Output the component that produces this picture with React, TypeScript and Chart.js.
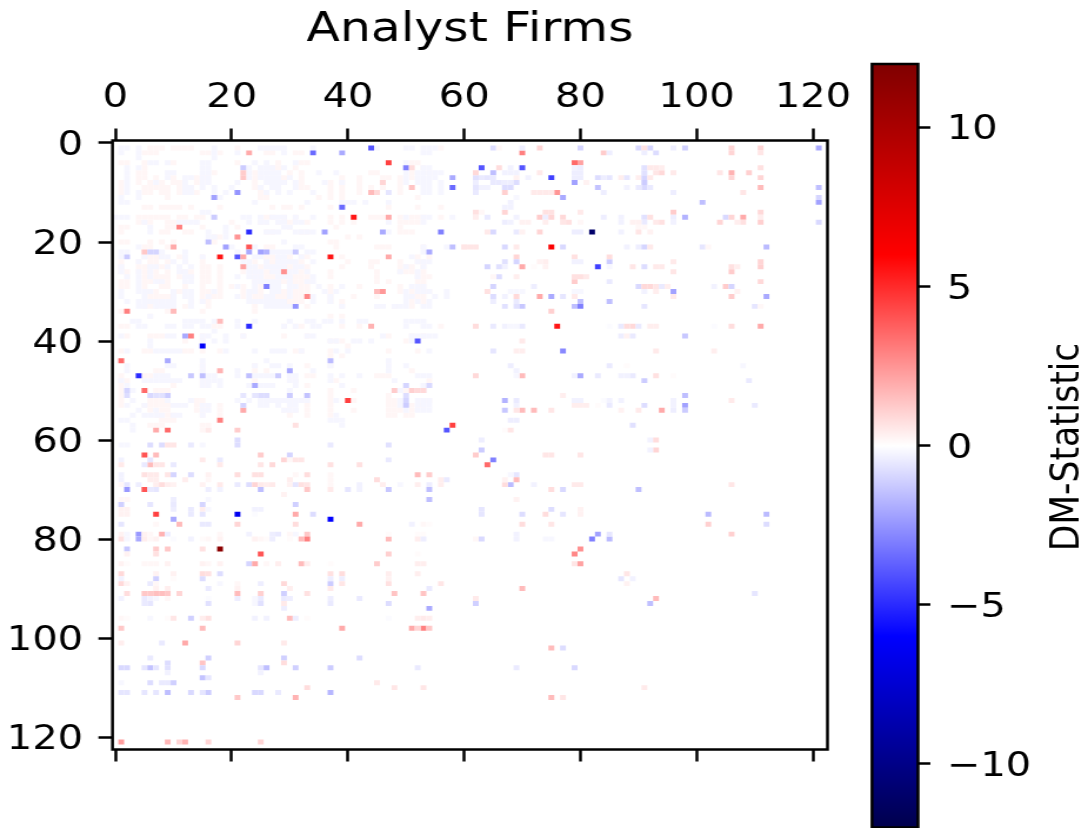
import React, { useEffect, useRef } from "react";
import Chart from "chart.js/auto";

const titleText = "Analyst Firms";
const colorbarLabel = "DM-Statistic";
const xTickValues = [0, 20, 40, 60, 80, 100, 120];
const yTickValues = [0, 20, 40, 60, 80, 100, 120];
const colorbarTicks = [-10, -5, 0, 5, 10];
const colorMin = -12;
const colorMax = 12;
// value, r, g, b (seismic)
const colormapStops = [
  [-12, 0, 0, 76],
  [-6, 0, 0, 255],
  [0, 255, 255, 255],
  [6, 255, 0, 0],
  [12, 128, 0, 0],
];

// [col, row, value]
const cellsUpperLeft = [
  [44,1,-4],[34,2,-3.5],[39,2,-2],[23,2,2],[47,4,4.5],[50,5,-3],[58,7,-2],[58,9,-3.5],[21,10,-2.5],[17,11,-2.2],
  [39,13,-3.5],[41,15,5.5],[47,15,2],[17,15,-1.2],[11,17,3],[23,18,-5],[46,18,-2],[36,18,-2.2],[56,18,-3],[21,19,2.5],
  [16,20,-1.5],[23,21,4],[19,21,-2.2],[10,21,2],[58,21,-1.5],[23,22,-2],[25,22,-2.2],[26,22,-1.8],[31,22,-1.3],[54,22,-2],
  [18,23,5.5],[21,23,-4],[22,23,2],[37,23,5.5],[47,23,2],[2,23,-1.2],[22,25,2.2],[29,26,2.6],[26,29,-3],[33,31,2.8],
  [46,30,2.4],[45,30,1.6],[31,33,-2.5],[2,34,3],[10,34,1.6],[18,36,1.6],[23,37,-5],[44,37,1.8],[13,39,3],[12,39,-2],
  [15,41,-6.2],[52,40,-4],[1,44,3.5],[9,44,-2],[37,44,-1.6],[4,47,-5],[30,46,-2],[18,46,1.8],[13,47,-1.3],[15,47,-1.5],
  [23,47,-1.5],[28,47,-1.2],[24,49,-2],[5,50,3.5],[40,52,4.5],[22,54,2],[18,56,3],[9,58,3.5],[7,58,2],[57,58,-4],
  [58,57,4.5],[21,58,1.2],[16,58,0.5],[31,57,0.7],[22,5,-1.2],[22,6,1.2],[22,7,1.3],[5,22,1.3],[6,22,-1],[7,22,-1],
  [47,10,-0.6],[44,10,1.6],[45,10,0.9],[51,9,1.4],[46,8,1],[51,5,0.8],[2,50,-1],[2,51,-0.8],[6,51,-0.9],[9,51,-1.2],
  [8,51,-0.7],[7,51,-0.7],[30,51,-1.2],[33,51,-1.4],[26,51,-0.8],[25,51,-0.8],[24,51,-0.6],[22,53,-1],[22,51,-0.6],[50,53,-1.2],
  [50,52,-1],[50,51,-0.8],[52,50,0.9],[53,50,0.9],[51,50,1.1],[50,49,-1],[54,49,-0.9],[48,50,1.2],
];
const cellsUpperRight = [
  [70,2,3],[63,5,-4],[70,5,-4],[79,4,3.5],[80,4,2.2],[65,6,-1.5],[75,7,-4.5],[79,8,-2.2],[76,10,2.5],[77,11,-2],
  [111,9,1.6],[121,1,-2],[121,9,-1.5],[121,12,-2.2],[121,11,-1],[101,12,-1.5],[82,18,-11],[75,21,6.2],[77,21,-0.9],[112,21,-1.6],
  [83,25,-4.5],[70,25,2],[98,15,-1.8],[108,15,2],[79,28,1.2],[96,30,-2.2],[73,31,2],[75,31,-2],[112,31,-2],[80,33,-3],
  [79,33,-1.5],[80,32,-1.5],[85,32,-1.5],[85,24,-1.2],[76,37,5.5],[111,37,2],[77,42,-2.8],[80,47,-2],[70,47,1.6],[62,47,0.9],
  [91,48,-1.2],[98,51,-1.5],[98,53,-2.2],[67,52,-1.8],[67,54,-1.3],[70,54,1.6],[72,54,1.6],[94,54,2],[98,54,-1.2],[80,1,-1],
  [70,1,-0.4],[73,1,1],[65,1,-0.8],[84,2,1.2],[85,2,-0.4],[108,10,0.6],[106,1,1],[106,2,1],[111,1,1],[111,2,0.6],
  [66,1,0.2],[90,1,-0.9],[92,1,-1],[91,1,0.7],[98,1,-1.1],[96,1,-0.4],[91,2,-0.4],[93,2,-0.8],[106,6,1.8],[106,7,1],
  [111,5,0.7],[111,7,1],[110,6,0],[109,6,1.1],[96,6,0.5],[104,6,0.6],[87,7,0.4],[88,7,-0.6],[85,7,-0.6],[84,7,-0.4],
  [83,7,-0.8],[90,7,0.4],[91,7,-1],[92,7,0.5],[91,6,-0.7],[91,5,-0.7],[91,8,-1.2],[91,9,-0.9],[90,9,-0.5],[92,9,-0.5],
  [93,6,0.6],[94,6,0.9],[93,5,0.5],[94,5,0.4],[92,5,0.5],[88,9,-0.3],[96,10,-0.4],[68,12,-0.3],[69,11,-0.2],[67,10,1.1],
  [62,10,-0.5],[72,10,0.5],[73,10,0.5],[74,10,0.5],[75,10,0.5],[83,9,-1.4],[84,10,-0.4],[62,9,-0.6],[63,9,-0.3],[64,9,-0.3],
  [62,8,-0.4],[65,8,-0.5],[66,8,-0.5],[67,8,-0.4],[68,8,-0.4],[69,8,-0.8],[68,9,-0.8],[67,9,-0.8],[69,7,0.3],[71,7,-0.3],
  [62,7,-0.7],[63,7,-0.5],[64,7,-0.6],[65,7,-0.5],[62,6,0.9],[66,5,0.8],[67,6,-0.3],[68,6,-0.3],[69,6,-0.3],[68,5,-0.3],
  [73,6,0.5],[81,8,0.3],[79,7,-0.4],[80,7,-0.4],[79,6,-0.4],[80,6,-0.4],[79,5,-0.3],[80,5,-0.4],
  [62,14,0.7],[63,14,0.2],[67,14,1],[74,14,0.7],[75,14,0.7],[80,14,0.5],[96,14,1.2],[111,14,0.9],[67,13,-0.3],[68,13,-0.3],
  [62,15,0.4],[64,15,-0.5],[69,15,-0.3],[73,15,1.2],[74,15,-0.4],[75,15,1],[77,15,0.9],[84,15,-0.4],[87,15,-0.3],[91,15,-0.7],
  [92,15,0.7],[96,15,-0.4],[105,15,-0.9],[106,15,1],[111,15,0.4],[67,16,-0.4],[68,16,-0.3],[70,16,0.3],[71,16,0.3],[74,16,0.4],
  [77,16,0.6],[78,16,0.7],[80,16,0.2],[87,16,-0.3],[91,16,-0.5],[90,16,0.3],[90,17,0.2],[91,17,0.2],[89,16,0.3],[96,16,-0.3],
  [104,16,1],[107,16,0.4],[108,16,0.7],[111,16,1.1],[121,16,-0.9],[93,16,0.5],[94,16,0.7],[65,18,-0.9],[64,18,0.5],[69,18,-0.5],
  [70,18,0.3],[73,18,1],[79,18,-0.4],[80,18,-0.4],[87,18,-0.3],[90,18,0.6],[92,18,0.3],[60,21,0.6],[61,21,0.6],[62,21,0.6],
  [67,21,-0.9],[69,21,0.5],[88,21,-0.3],[90,21,-0.4],[91,21,-1],[92,21,0.5],[101,21,-0.6],[102,21,0.2],
  [67,24,-0.7],[67,25,-0.3],[69,23,1],[69,24,-1],[72,25,0.1],[73,24,0.3],[74,24,0.4],[74,25,0.3],[79,23,0.7],[79,24,-0.3],
  [80,24,-0.3],[85,23,0.8],[85,25,-0.2],[64,25,-1],[66,25,-0.7],[89,25,0.6],[91,25,-0.8],[93,25,0.5],[94,25,0.5],[96,24,0.5],
  [106,25,0.7],[107,25,0.4],[111,24,1],[111,25,1.1],[106,26,1.2],[66,27,-0.8],[65,27,0.2],[69,27,0.4],[79,27,0.7],[80,27,0.7],
  [81,27,0.5],[85,28,-0.5],[96,26,0.6],[111,28,0.9],[65,29,-1],[72,29,-0.4],[90,29,-0.9],[92,29,0.9],[93,29,0.6],[94,29,-0.5],
  [91,29,0.9],[95,29,0.4],[103,29,-0.3],[105,29,1.2],[106,29,-1],[64,30,0.7],[65,31,-0.8],[69,30,-0.2],[68,30,-0.2],[70,30,-0.2],
  [79,30,-0.2],[80,30,-0.2],[91,30,-0.3],[93,30,0.4],[107,30,0.3],[69,31,0.9],[67,31,-0.3],[77,31,-0.6],[79,31,0.5],[96,31,0.5],
  [106,31,1.2],[65,32,-0.4],[69,32,-0.5],[67,33,-0.7],[69,33,-0.7],[70,33,-1.3],[75,34,1.1],[91,33,-0.6],[110,33,-0.6],[111,33,0.2],
  [62,37,0.8],[65,37,-0.5],[67,37,-0.3],[68,37,-0.2],[69,37,-0.2],[70,37,-0.5],[85,37,-0.1],[87,37,-0.5],[88,37,0.8],[89,37,0.9],
  [90,37,-0.5],[92,37,0.4],[93,37,0.4],[103,37,-0.1],[106,37,0.8],[87,39,-0.4],[88,39,0.3],[89,39,-0.5],[98,39,-1.3],[70,40,0.5],
  [65,42,-0.6],[69,42,0.4],[70,42,0.4],[93,42,0.5],[103,42,0.4],[68,45,-0.4],[69,46,-0.3],[85,45,-0.5],[88,45,0.1],[108,45,-0.2],
  [79,47,-0.3],[83,47,-0.5],[87,47,-0.3],[88,47,-0.3],[89,47,-0.5],[93,47,0.7],[96,47,0.1],[109,48,-0.5],[69,47,-0.2],[77,51,0.4],
  [69,52,-0.5],[69,53,-0.3],[79,52,-0.3],[80,52,-0.3],[79,53,0.4],[80,53,0.4],[81,53,0.4],[84,52,-0.1],[83,53,0.1],[85,52,-0.3],
  [85,53,-0.5],[87,52,-0.3],[96,52,-0.3],[96,53,-0.3],[91,53,-0.8],[106,52,0.5],[110,53,-0.5],[69,54,0.6],[75,54,0.6],[87,54,0.3],
  [90,54,0.5],[96,54,-0.4],[68,56,-0.4],[69,56,-0.4],[89,57,-0.7],[67,58,0.1],[68,58,0.6],[63,60,-0.4],[92,60,-0.3],[93,60,0.8],
];
const cellsLowerLeft = [
  [5,63,4],[7,63,1.6],[25,63,1.2],[30,63,-1],[6,65,1.6],[29,64,1],[2,70,-2.4],[5,70,4],[25,70,-1.5],[33,70,1.3],
  [47,70,-1.3],[54,70,-1.5],[52,67,1.6],[54,67,1.2],[54,72,-1.5],[1,73,-1.1],[15,73,-1],[31,73,-1.1],[7,75,4.5],[21,75,-6.5],
  [31,75,2],[34,75,-0.8],[10,76,-2],[37,76,-6],[11,77,1.6],[21,77,1],[31,77,0.8],[42,77,2],[4,79,-2.4],[4,80,-2],
  [8,79,1.8],[33,79,1.3],[33,80,3],[32,80,1.6],[47,80,1.6],[18,82,11.5],[2,82,-1.3],[7,82,1.2],[9,82,1.3],[15,82,0.7],
  [25,83,4],[47,83,1.1],[23,85,-1],[24,85,2],[32,85,1.6],[45,85,1.2],[21,91,1.6],[25,91,1.1],[5,91,1.3],[6,91,1.3],
  [7,91,1.5],[8,91,1.5],[9,91,1.3],[2,91,0.8],[11,91,1],[29,91,-1.1],[33,91,0.7],[48,91,1.4],[53,91,1.4],[54,94,-2],
  [13,96,-1.1],[30,96,1.6],[1,98,1.3],[15,98,1.6],[39,98,2],[51,98,2],[53,98,3],[52,98,1],[54,98,1.3],[12,101,2],
  [21,101,1],[1,101,0.4],[8,101,-0.5],[29,101,0.5],[16,104,-1.1],[29,104,-1.1],[42,104,-0.8],[6,104,-0.5],[15,105,1.4],[29,105,0.8],
  [9,105,-0.8],[1,106,-0.9],[2,106,-0.9],[5,106,-0.6],[6,106,-1.4],[7,106,-0.6],[9,106,-0.7],[15,106,-0.9],[25,106,-0.6],[26,106,-1.5],
  [31,106,-1.1],[37,106,-1.2],[52,106,-0.5],[25,107,-0.3],[9,107,-0.3],[15,108,-1.4],[16,108,-0.6],[1,109,-0.2],[6,109,-0.8],[8,109,-0.5],
  [9,109,-0.5],[10,109,-1.1],[45,109,0.5],[33,110,0.8],[48,110,0.6],[53,110,0.6],[1,111,-0.6],[2,111,-0.6],[5,111,-0.6],[7,111,-0.6],
  [9,111,-1.5],[13,111,-0.9],[15,111,-0.6],[16,111,-1.2],[24,111,-0.9],[25,111,-0.9],[28,111,-0.5],[37,111,-1.7],[21,112,1.3],[31,112,1.8],
  [1,121,2.3],[9,121,1.7],[11,121,1],[12,121,1.8],[16,121,1],[25,121,1],
  [1,61,-0.2],[2,61,-0.2],[6,61,-0.8],[8,61,-0.8],[9,61,0.6],[10,61,0.6],[13,61,-0.5],[15,61,-0.2],[21,60,-0.8],[21,61,-0.8],[37,61,-0.5],[47,61,-0.7],
  [1,64,-0.3],[6,64,-0.6],[15,64,0.5],[18,64,-0.5],[30,64,0.2],[31,64,0.6],[32,64,0.6],[47,64,-0.5],[1,65,0.5],[5,65,-0.5],
  [7,65,0.6],[8,65,0.6],[10,65,-0.5],[18,65,0.5],[25,65,0.6],[27,65,0.9],[37,65,0.7],[42,65,0.7],
  [1,67,-0.3],[5,67,0.7],[6,67,0.5],[7,67,0.5],[9,67,0.6],[10,67,-1],[13,67,-0.8],[16,67,0.3],[21,67,0.8],[24,67,0.7],[25,67,0.7],[31,67,0.2],[33,67,0.8],[37,67,0.2],
  [1,68,-0.3],[6,68,0.4],[7,68,0.4],[12,68,0.4],[16,68,0.2],[30,68,0.4],[37,68,0.2],[45,68,0.8],[56,68,0.4],[57,68,-0.5],
  [1,69,0.2],[2,69,-0.6],[4,69,-0.4],[7,69,0.4],[8,69,0.8],[9,69,0.4],[10,69,0.3],[15,69,0.3],[18,69,0.5],[21,69,-0.5],[23,69,-0.8],[24,69,1],[25,69,0.5],[26,69,0.4],[27,69,0.5],[30,69,0.3],[31,69,-0.6],[32,69,0.7],[33,69,0.6],[37,69,0.2],[42,69,-0.3],[46,69,0.4],[49,69,-0.2],[52,69,0.4],[54,69,-0.4],[56,69,0.4],
  [6,70,-0.5],[7,70,-0.6],[16,70,-0.4],[18,70,-0.3],[37,70,0.5],[40,70,-0.6],[42,70,-0.3],[29,71,0.3],[1,72,0.2],[2,72,0.2],[10,72,-0.4],[16,72,-0.2],[10,73,-0.5],[6,73,-0.6],[10,74,-0.4],[13,74,-0.5],[15,74,0.4],[16,74,-0.2],[24,74,-0.3],[25,74,-0.3],[1,74,0.3],[2,74,0.3],[13,75,-0.5],[15,75,-0.6],[1,75,0.3],[2,75,0.3],[24,75,-0.1],
  [1,77,-0.6],[7,77,0.2],[15,77,-0.5],[16,77,-0.5],[51,77,-0.3],[53,77,0.2],[54,77,0.1],
  [1,79,0.3],[2,79,-0.2],[5,79,0.3],[6,79,0.2],[9,79,-0.4],[18,79,0.2],[23,79,-0.3],[27,79,-0.4],[28,79,-0.5],[31,79,-0.2],[30,79,0.2],[53,79,0.1],[47,79,0.1],[52,79,0.1],
  [1,80,0.7],[2,80,-0.2],[5,80,0.4],[6,80,0.2],[7,80,0.3],[10,80,-0.1],[13,80,-0.3],[15,80,0.1],[16,80,0.2],[18,80,0.3],[24,80,0.3],[25,80,0.2],[26,80,0.1],[27,80,-0.4],[30,80,0.1],[52,80,0.4],[53,80,-0.4],
  [7,83,0.7],[2,83,0.3],[52,83,0.1],[1,85,0.3],[2,85,0.1],[5,85,0.2],[6,85,0.2],[7,85,0.2],[9,85,0.3],[15,85,0.3],[16,85,0.2],[18,85,0.3],[26,85,0.2],[28,85,0.4],[33,85,0.4],[37,85,0.1],[52,85,0.4],[53,85,0.4],
  [1,87,0.9],[7,87,0.3],[10,87,0.3],[15,87,0.8],[16,87,0.7],[18,87,-0.8],[37,87,0.7],[39,87,0.8],[47,87,0.4],[52,87,0.4],[45,87,0],
  [1,88,-0.3],[7,88,-1.1],[15,88,-0.8],[37,88,-0.4],[39,88,-0.4],[47,88,0.3],[10,88,0.1],
  [1,89,0.9],[2,89,0.3],[6,89,-0.5],[7,89,0.2],[18,89,-0.2],[21,89,0.2],[25,89,-0.4],[29,89,0.9],[37,89,-1.2],[39,89,0.6],[47,89,0.7],[56,89,0.6],
  [7,90,0.3],[9,90,0.4],[16,90,-0.5],[21,90,0.3],[30,90,0.4],[37,90,0.5],[54,90,-0.5],
  [1,92,-0.3],[5,92,-0.5],[6,92,-0.3],[7,92,-0.2],[9,92,0.2],[16,92,-0.1],[21,92,-0.4],[24,92,-0.2],[25,92,-0.5],[29,92,-0.5],[30,92,-0.4],[37,92,-0.4],[42,92,-0.5],
  [5,93,-0.5],[6,93,-0.6],[16,93,-0.7],[24,93,-0.2],[25,93,-0.7],[29,93,0.5],[37,93,-0.5],[47,93,-0.8],[29,94,-0.4],
  [1,96,0.2],[2,96,0.1],[6,96,-0.2],[9,96,0.1],[10,96,0.6],[15,96,0.4],[16,96,0.7],[24,96,-0.3],[26,96,-0.3],[31,96,-0.4],[33,96,0.1],[47,96,-0.1],[52,96,0.4],[53,96,0.5],[54,96,0.4],
];
const cellsLowerRight = [
  [63,62,-1.2],[62,63,1.2],[65,64,-3],[64,65,3.5],[74,63,0.6],[75,63,0.6],[80,63,0.6],[93,62,1],[92,62,-0.3],[69,67,-0.6],
  [69,68,1.6],[68,69,-1.6],[67,69,0.8],[72,69,-0.3],[75,70,0.8],[77,70,-0.9],[90,70,-1.5],[79,69,0.5],[80,69,0.5],[106,69,0.6],
  [69,72,0.3],[63,74,-0.6],[63,75,-0.6],[70,75,-0.8],[74,75,0.8],[75,74,-0.8],[77,75,-0.6],[80,74,0.3],[80,75,0.3],[102,75,-1.6],
  [112,75,-1.6],[102,77,1.1],[112,77,-0.8],[70,77,0.8],[75,77,0.6],[106,79,1.1],[83,79,-2.2],[82,80,-3],[85,80,-1.6],[85,79,-0.6],
  [63,80,-0.9],[69,79,-0.3],[69,80,-0.3],[74,80,-0.2],[75,80,-0.2],[80,82,2.6],[79,83,2.8],[79,85,0.6],[80,85,2.2],[88,87,0.6],
  [87,88,-0.6],[89,88,-0.3],[88,89,0.3],[70,90,1.6],[62,92,0.5],[62,93,-1.1],[93,92,1.6],[92,93,-1.5],[110,91,-0.6],[75,102,1.6],
  [77,102,-0.8],[69,106,-0.5],[79,106,-0.9],[91,110,0.5],[75,112,1.6],[77,112,0.6],[62,80,0.2],[68,67,-0.2],[67,68,0.3],
];
// rows of palest cells in the upper-left block: [row, ...cols]
const palePinkRows = [
  [1,6,7,8,10,11,12,13,21,56],[2,5,6,7,15,16,18,26,27,31,32],[4,1,2,5,10,21,28,32,33,51,52],[5,5,27,28,31,53],[6,4,5,17,24,27,30,32,44,45,51,54],
  [7,4,5,7,10,14,15,16,24,25,29,30,32,39,42,46,47,49,51],[8,1,4,6,8,10,11,14,16,24,29,31,32,37,39,42,46,49],[9,1,5,6,7,8,9,11,13,24,25,32,33,37,39,42,44,46,49,51],[10,1,5,6,8,9,11,12,14,25,37,39,42,44,49],[11,9,25,26,35,37,39,52],
  [13,5,6,8,9,10,11,13,18,27,29,30,32,37,47,52,56],[15,4,5,6,7,8,9,11,12,14,15,26,27,29,31,37,39,44,45,46,49,51,52,53,56],[16,4,5,6,9,10,14,20,25,26,28,30,33,37,39,41,49,50,51,52],[17,1,2,9,10,15,21,30,38,49],[18,1,8,9,12,13,26,27,32,33,49,50,51],
  [19,17,18,21,40,42],[20,1,2,6,8,10,17,37,38],[21,5,6,9,26,27,38,45,46,47,53,60],[23,5,6,7,8,11,15,22,26,27,30,32,33,39,54,52],[24,1,4,6,7,9,12,15,24,26,27,28,30,32,40,44,45,49,52,53],
  [25,1,4,5,6,7,8,15,16,18,25,27,29,30,31,33,39,44,49,50,51,53],[26,1,2,4,5,6,7,9,11,12,13,15,16,18,22,24,26,27,28,30,31,32,33,37,45,49,50,51,53],[27,2,5,6,7,8,9,11,13,15,16,18,24,25,26,27,29,30,31,32,33,37,45,52,53,54],[28,1,2,5,6,7,8,9,15,16,18,24,25,26,27,28,29,30,31,32,33,45,47,52,53],[29,1,2,5,8,9,12,15,18,20,22,25,26,31,32,33,37,42,49,52,53],
  [30,6,7,10,11,15,16,18,22,24,25,27,29,31,32,33,37,45,49,51,53,54],[31,6,7,8,9,10,15,16,17,18,22,24,25,27,28,29,31,32,37,41,45,51,52,53],[32,6,7,8,9,13,15,16,24,29,30,31,32,37,39,51,52,53],[33,5,6,7,12,16,24,33,39,45,48,51],[34,1,9,15,24],
  [35,6,37,39],[37,1,2,17,18,29,31,32,39,42,56],[39,2,6,7,8,15,22,29,33,47,51,53],[40,12,15,37,38,39,50],[41,40],[42,1,5,6,12,13,15,18,31,32,37,47,52],
  [43,37,39],[45,15,24,33,37,47],[46,7,8,15,18,24,26,51],[47,1,5,6,33,34,45,46,47],[48,1,2,15,24,30,31,38,54],[49,1,10,15,33],
  [50,1,7,8,9,37,41,49,50,52,53],[51,1,30,33,37,47],[52,1,6,7,8,9,14,15,30,33,37,41,47,48,53,54],[53,1,5,6,7,8,9,14,15,16,18,30,33,37,47,48,49,51,52,53],[54,6,7,8,9,14,15,18,29,30,31,33,37,41,47,48,49,51],
  [55,7,8,9,10,15,18,30,33,37,47,48,50,51],[56,8,9,10],[57,6,7,8,15,16],[58,15,16],
];
const paleBlueRows = [
  [1,1,2,4,17,25,26,27,28,29,34,45,50,51,53,54,55],[2,1,4,17,21,29,53,54],[3,4,17],[4,6,7,9,15,16,24,26,31,50],[5,2,4,15,16,23,25,26,27,29,53,54],
  [6,2,9,10,15,16,23,25,26,27,28,35,38,50,52,53,54,55,56],[7,2,9,12,13,15,16,23,25,26,27,28,30,50,52,53,54,55],[8,2,7,12,15,16,21,26,27,28,29,31,36,39,50,52,53,54,56],[9,2,12,13,15,17,20,25,27,28,31,54,53,56],[10,2,4,12,13,17,19,26,28,30,34,53,54,56],
  [11,1,4,17,18],[12,1,2,24,33,39,40,41,43,47],[15,0,1,2,17,22,23,25,27,28,29,31,34,50,53,54,58],[14,15,16],[16,5,11,12,13,14,23,25,26,28,29,31,32,47,53],
  [17,6,19,29,30],[18,6,16,19,26,27,28,31,32,33,34,47],[19,16,17,19],[20,29],[21,4,19,20,24,31,32,53,57],
  [22,1,2,6,7,8,12,21,27,28,29,30,33,34,53,54],[23,1,5,8,9,12,15,24,25,28,29,32,51],[24,4,10,12,22,23,26,28,29,30,31,34,52,53,54],[25,1,6,7,9,11,13,23,24,26,27,28,29,31,32,50,53],[26,1,4,6,11,12,23,24,25,27,28,29,30,31,33,49,52],
  [27,2,4,6,12,13,21,23,24,25,28,29,30,34,52],[28,4,7,8,12,13,24,25,26,27,28,30,33,34],[29,4,21,24,27,28,30,31,35,39,51,52,53],[30,1,4,5,6,10,12,13,17,23,24,27,28,30,36,38,50,52,53,54,57],[31,1,5,10,12,13,16,21,23,26,27,30,34,37,50,51,55,57],
  [32,2,4,5,6,7,8,9,10,13,15,23,24,25,26,27,28,29,34,37,50,54,52],[33,4,5,7,8,9,10,13,26,27,28,29,30,39,45,46,48,49,50,53,54],[35,6],[36,3,4,12,13,14,15,17,21,24,30,33,34,36,37,39,42,43,50,51,52,53],[37,4,5,9,10,12,13,15,16,21,29,31,34,35,50,53,54],
  [38,17],[39,1,9,10,15,16,19,22,33,34,46,51,52,53,54,55],[40,6,15,17,19,37,38,41,42,44,51],[41,6],[42,2,7,8,9,10,11,19,24,27,28,29,32,38,40,54],
  [44,15,26,47],[45,2,9,10,15,24,27,28,30,37,47,50],[46,2,15,21,30,34,47],[47,7,8,9,16,17,21,24,25,26,27,30,31,37,39,42,52,53,54],[48,1,5,6,7,8,9,10,11,15,16,17,18,30,31,37,48],
  [49,2,15,16,18,23,25,26,27,31,39,50,53,54],[50,2,3,30,48,49,53],[52,3,9,13,21,23,25,26,27,28,29,30,31,32,33,38,49,52,53,54],[53,2,5,10,11,12,15,16,22,25,26,28,30,31,49,50,52,53,54],[54,4,7,15,16,22,29,30,31,50,52,53,54],
  [55,3,5,6,7,8,10,11,15,38],[56,1,2,37,38,39],[57,3,39],[58,3],
];
const palePinkValue = 0.22;
const paleBlueValue = -0.22;

const S = 1088 / 925;

function seismic(v: number, alpha = 1) {
  const c = Math.max(colorMin, Math.min(colorMax, v));
  for (let i = 1; i < colormapStops.length; i++) {
    const a = colormapStops[i - 1];
    const b = colormapStops[i];
    if (c <= b[0]) {
      const t = (c - a[0]) / (b[0] - a[0]);
      const ch = (k: number) => Math.round(a[k] + (b[k] - a[k]) * t);
      return `rgba(${ch(1)},${ch(2)},${ch(3)},${alpha})`;
    }
  }
  return "#800000";
}

const FONT = "'DejaVu Sans'";

export default function App() {
  const heatRef = useRef<HTMLCanvasElement>(null);
  const barRef = useRef<HTMLCanvasElement>(null);

  useEffect(() => {
    const points: { x: number; y: number; v: number }[] = [];
    palePinkRows.forEach(([row, ...cols]) => cols.forEach((x) => points.push({ x, y: row, v: palePinkValue })));
    paleBlueRows.forEach(([row, ...cols]) => cols.forEach((x) => points.push({ x, y: row, v: paleBlueValue })));
    [cellsUpperLeft, cellsUpperRight, cellsLowerLeft, cellsLowerRight].forEach((list) =>
      list.forEach(([x, y, v]) => points.push({ x, y, v }))
    );

    const frame = {
      id: "frame",
      afterDraw(chart: any) {
        const { ctx, chartArea: a } = chart;
        ctx.save();
        ctx.strokeStyle = "#000";
        ctx.lineWidth = 2.5;
        ctx.strokeRect(a.left, a.top, a.right - a.left, a.bottom - a.top);
        ctx.restore();
      },
    };

    const gridOpts = {
      drawOnChartArea: false,
      drawTicks: true,
      tickLength: 12,
      tickWidth: 2.5,
      tickColor: "#000",
    };
    const noPadding = (s: any) => {
      s.paddingLeft = 0;
      s.paddingRight = 0;
      s.paddingTop = 0;
      s.paddingBottom = 0;
    };

    const heat = new Chart(heatRef.current!, {
      type: "scatter",
      data: {
        datasets: [
          {
            data: points,
            pointStyle: "rect",
            pointRadius: 3.5,
            pointHoverRadius: 3.5,
            pointBorderWidth: 0,
            backgroundColor: (ctx: any) => (ctx.raw ? seismic(ctx.raw.v) : "#fff"),
          },
        ],
      },
      options: {
        responsive: false,
        animation: false,
        events: [],
        devicePixelRatio: 1,
        layout: { padding: { top: 0, right: 56.5, bottom: 0, left: 0 } },
        plugins: {
          legend: { display: false },
          tooltip: { enabled: false },
          title: {
            display: true,
            text: titleText,
            fullSize: false,
            color: "#000",
            font: { family: FONT, size: 41.5, weight: "normal", lineHeight: 1.2 },
            padding: { top: 5.5, bottom: 0 },
          },
        },
        scales: {
          x: {
            type: "linear",
            position: "top",
            min: -0.5,
            max: 122.5,
            afterBuildTicks: (s: any) => { s.ticks = xTickValues.map((value) => ({ value })); },
            afterFit: (s: any) => { noPadding(s); s.height = 140.5 - 55.3; },
            grid: gridOpts,
            border: { display: false },
            ticks: { color: "#000", font: { family: FONT, size: 34 }, padding: 10, maxRotation: 0, autoSkip: false },
          },
          xb: {
            type: "linear",
            position: "bottom",
            min: -0.5,
            max: 122.5,
            afterBuildTicks: (s: any) => { s.ticks = xTickValues.map((value) => ({ value })); },
            afterFit: (s: any) => { noPadding(s); s.height = 828 - 749.5; },
            grid: gridOpts,
            border: { display: false },
            ticks: { display: false, autoSkip: false },
          },
          y: {
            type: "linear",
            position: "left",
            reverse: true,
            min: -0.5,
            max: 122.5,
            afterBuildTicks: (s: any) => { s.ticks = yTickValues.map((value) => ({ value })); },
            afterFit: (s: any) => { noPadding(s); s.width = 112.5 / S; },
            grid: gridOpts,
            border: { display: false },
            ticks: { color: "#000", font: { family: FONT, size: 34 }, padding: 13, labelOffset: 3, autoSkip: false },
          },
        },
      } as any,
      plugins: [frame],
    } as any);

    const label = {
      id: "cbLabel",
      afterDraw(chart: any) {
        const { ctx } = chart;
        ctx.save();
        ctx.translate(1068.5 / S - 720, 447);
        ctx.rotate(-Math.PI / 2);
        ctx.font = `34.5px ${FONT}`;
        ctx.fillStyle = "#000";
        ctx.textAlign = "center";
        ctx.textBaseline = "middle";
        ctx.fillText(colorbarLabel, 0, 0);
        ctx.restore();
      },
    };

    const bar = new Chart(barRef.current!, {
      type: "bar",
      data: {
        labels: [colorbarLabel],
        datasets: [
          {
            data: [[colorMin, colorMax]],
            barPercentage: 1,
            categoryPercentage: 1,
            borderWidth: 0,
            backgroundColor: (ctx: any) => {
              const { chart } = ctx;
              const y = chart.scales.y;
              if (!chart.chartArea || !y) return "#fff";
              const top = y.getPixelForValue(colorMax);
              const bottom = y.getPixelForValue(colorMin);
              const g = chart.ctx.createLinearGradient(0, bottom, 0, top);
              colormapStops.forEach((s) => g.addColorStop((s[0] - colorMin) / (colorMax - colorMin), seismic(s[0])));
              return g;
            },
          },
        ],
      },
      options: {
        responsive: false,
        animation: false,
        events: [],
        devicePixelRatio: 1,
        layout: { padding: { top: 64, right: 0, bottom: 0.5, left: 872 / S - 720 } },
        plugins: { legend: { display: false }, tooltip: { enabled: false } },
        scales: {
          x: { display: false },
          y: {
            position: "right",
            min: colorMin,
            max: colorMax,
            afterBuildTicks: (s: any) => { s.ticks = colorbarTicks.map((value) => ({ value })); },
            afterFit: (s: any) => { noPadding(s); s.width = 205 - (918 / S - 720); },
            grid: { ...gridOpts, tickLength: 10.5 },
            border: { display: false },
            ticks: {
              color: "#000",
              font: { family: FONT, size: 34 },
              padding: 14,
              labelOffset: 3,
              autoSkip: false,
              callback: (v: any) => String(v).replace("-", "\u2212"),
            },
          },
        },
      } as any,
      plugins: [frame, label],
    } as any);

    return () => {
      heat.destroy();
      bar.destroy();
    };
  }, []);

  return (
    <div style={{ position: "fixed", left: 0, top: 0, width: 1088, height: 828, overflow: "hidden", background: "#fff" }}>
      <div style={{ position: "absolute", left: 0, top: 0, width: 925, height: 828, transform: `scale(${S},1)`, transformOrigin: "0 0", filter: "blur(0.45px)" }}>
        <canvas ref={heatRef} width={760} height={828} style={{ position: "absolute", left: 0, top: 0 }} />
        <canvas ref={barRef} width={205} height={828} style={{ position: "absolute", left: 720, top: 0 }} />
      </div>
    </div>
  );
}
